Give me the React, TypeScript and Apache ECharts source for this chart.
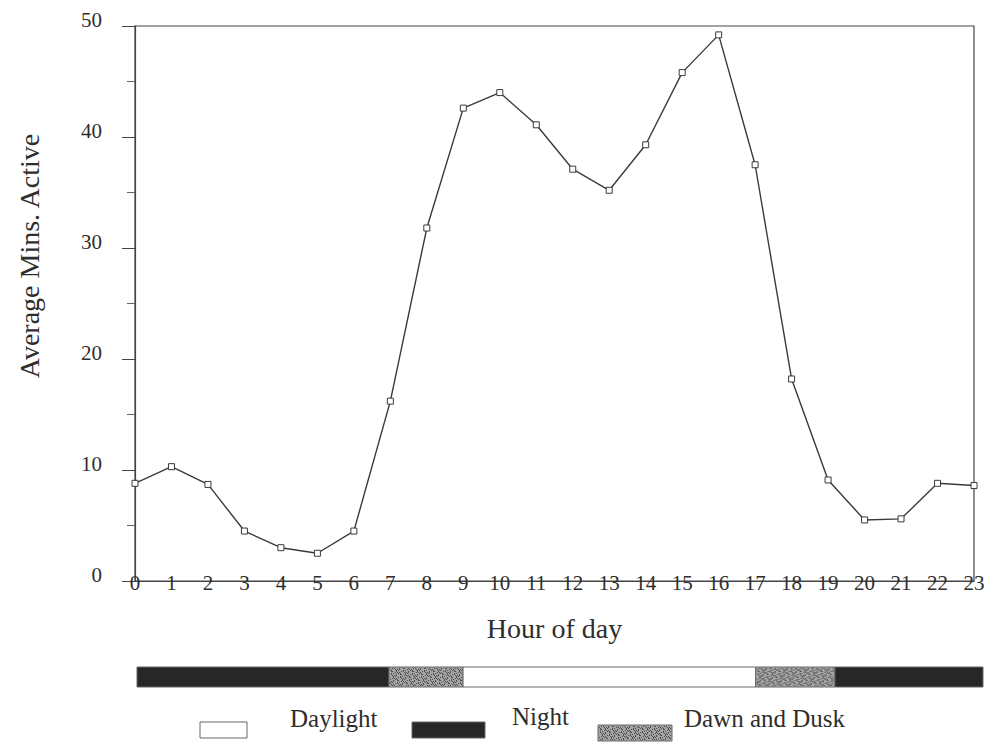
import React, { useEffect, useRef } from "react";
import * as echarts from "echarts";

const hours = ["0","1","2","3","4","5","6","7","8","9","10","11","12","13","14","15","16","17","18","19","20","21","22","23"];
const avgMinsActive = [8.8, 10.3, 8.7, 4.5, 3.0, 2.5, 4.5, 16.2, 31.8, 42.6, 44.0, 41.1, 37.1, 35.2, 39.3, 45.8, 49.2, 37.5, 18.2, 9.1, 5.5, 5.6, 8.8, 8.6];

const phaseStarts = [0, 7.15, 9.25, 17.55, 19.8];
const phaseEnds = [7.15, 9.25, 17.55, 19.8, 24];
const phaseKinds = ["Night", "Dawn and Dusk", "Daylight", "Dawn and Dusk", "Night"];

const legendKinds = ["Daylight", "Night", "Dawn and Dusk"];

const kindColor: Record<string, string> = {
  Night: "#272727",
  "Dawn and Dusk": "#a4a4a4",
  Daylight: "#ffffff",
};

const FONT = "'Liberation Serif', 'Times New Roman', serif";
const INK = "#2e2e2e";

// deterministic dither dots for the textured "Dawn and Dusk" fill
function stippleDots(x: number, y: number, w: number, h: number) {
  const dots: any[] = [];
  for (let j = 1; j < Math.floor(h) - 1; j++) {
    for (let i = 1; i < Math.floor(w) - 1; i++) {
      if ((i * 3 + j * 5 + ((i * j) % 3)) % 7 < 2) {
        dots.push({
          type: "rect",
          shape: { x: x + i, y: y + j, width: 1, height: 1 },
          style: { fill: "#4e4e4e" },
          silent: true,
        });
      }
    }
  }
  return dots;
}

export default function App() {
  const ref = useRef<HTMLDivElement>(null);
  useEffect(() => {
    if (!ref.current) return;
    const chart = echarts.init(ref.current, undefined, { renderer: "svg" });
    const phaseData = phaseStarts.map((s, i) => [s, phaseEnds[i], i]);
    const legendX = [200, 412, 598];
    const legendY = [722, 722, 725];
    const legendW = [47, 73, 74];
    const legendTextX = [290, 512, 684];
    const legendTextY = [718, 716, 718];
    const graphics: any[] = [
      {
        type: "text",
        x: 29,
        y: 256,
        rotation: Math.PI / 2,
        style: {
          text: "Average Mins. Active",
          font: `28px ${FONT}`,
          fill: INK,
          align: "center",
          verticalAlign: "middle",
        },
      },
    ];
    legendKinds.forEach((k, i) => {
      const children: any[] = [
        {
          type: "rect",
          shape: { x: legendX[i], y: legendY[i], width: legendW[i], height: 16 },
          style: { fill: kindColor[k], stroke: "#666", lineWidth: 1 },
        },
      ];
      if (k === "Dawn and Dusk") children.push(...stippleDots(legendX[i], legendY[i], legendW[i], 16));
      graphics.push({ type: "group", children });
      graphics.push({
        type: "text",
        x: legendTextX[i],
        y: legendTextY[i],
        style: { text: k, font: `25px ${FONT}`, fill: INK, verticalAlign: "middle" },
      });
    });
    chart.setOption({
      animation: false,
      backgroundColor: "#fff",
      grid: [
        { left: 135, right: 16, top: 26, bottom: 164, show: true, borderColor: "#444", borderWidth: 1.2, backgroundColor: "transparent" },
        { left: 137, right: 7, top: 667, height: 20 },
      ],
      xAxis: [
        {
          type: "category",
          gridIndex: 0,
          data: hours,
          boundaryGap: false,
          axisLine: { lineStyle: { color: "#444", width: 1.2 } },
          axisTick: { show: false },
          axisLabel: { color: INK, fontFamily: FONT, fontSize: 21, margin: -9, interval: 0 },
          name: "Hour of day",
          nameLocation: "middle",
          nameGap: 33,
          nameTextStyle: { color: INK, fontFamily: FONT, fontSize: 28 },
        },
        { type: "value", gridIndex: 1, min: 0, max: 24, show: false },
      ],
      yAxis: [
        {
          type: "value",
          gridIndex: 0,
          min: 0,
          max: 50,
          interval: 10,
          splitLine: { show: false },
          axisLine: { show: true, lineStyle: { color: "#444", width: 1.2 } },
          axisTick: { show: true, length: 13, lineStyle: { color: "#444" } },
          minorTick: { show: true, splitNumber: 2, length: 8, lineStyle: { color: "#666" } },
          axisLabel: { color: INK, fontFamily: FONT, fontSize: 21, margin: 33, verticalAlign: "bottom", lineHeight: 12 },
        },
        { type: "value", gridIndex: 1, min: 0, max: 1, show: false },
      ],
      graphic: graphics,
      series: [
        {
          type: "line",
          xAxisIndex: 0,
          yAxisIndex: 0,
          data: avgMinsActive,
          symbol: "rect",
          symbolSize: 6,
          showAllSymbol: true,
          lineStyle: { color: "#3a3a3a", width: 1.4 },
          itemStyle: { color: "#fff", borderColor: "#3a3a3a", borderWidth: 1 },
        },
        {
          type: "custom",
          xAxisIndex: 1,
          yAxisIndex: 1,
          data: phaseData,
          encode: { x: [0, 1] },
          renderItem: (params: any, api: any) => {
            const s = api.value(0);
            const e = api.value(1);
            const idx = api.value(2);
            const kind = phaseKinds[idx];
            const p0 = api.coord([s, 1]);
            const p1 = api.coord([e, 0]);
            const w = p1[0] - p0[0];
            const h = p1[1] - p0[1];
            const children: any[] = [
              {
                type: "rect",
                shape: { x: p0[0], y: p0[1], width: w, height: h },
                style: { fill: kindColor[kind], stroke: "#666", lineWidth: 1 },
              },
            ];
            if (kind === "Dawn and Dusk") children.push(...stippleDots(p0[0], p0[1], w, h));
            return { type: "group", children };
          },
        },
      ],
    });
    return () => chart.dispose();
  }, []);
  return <div ref={ref} style={{ width: 990, height: 745, position: "absolute", left: 0, top: 0 }} />;
}
